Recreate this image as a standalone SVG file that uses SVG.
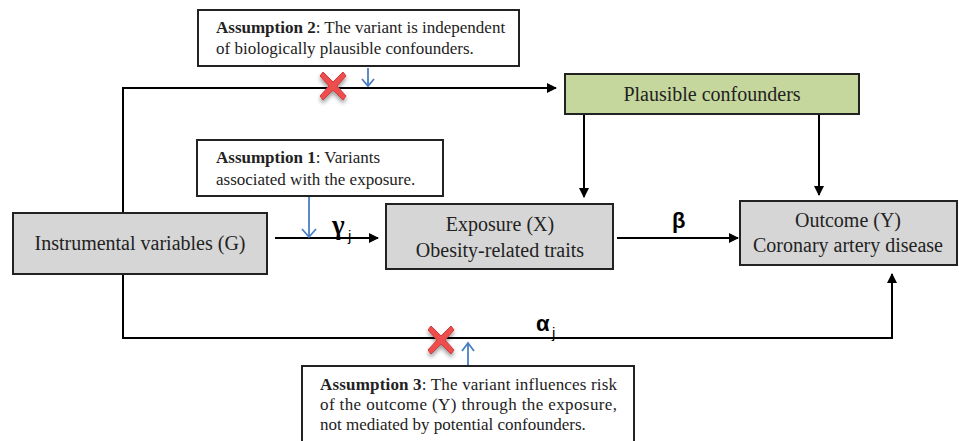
<svg xmlns="http://www.w3.org/2000/svg" width="959" height="441" viewBox="0 0 959 441">
<defs>
<marker id="ah" markerWidth="10" markerHeight="10" refX="9" refY="5" orient="auto" markerUnits="userSpaceOnUse" viewBox="0 0 10 10">
<path d="M0,0 L10,5 L0,10 z" fill="#000"/>
</marker>
<filter id="sh" x="-50%" y="-50%" width="200%" height="200%">
<feGaussianBlur in="SourceAlpha" stdDeviation="2"/>
<feOffset dx="0" dy="3"/>
<feComponentTransfer><feFuncA type="linear" slope="0.4"/></feComponentTransfer>
<feMerge><feMergeNode/><feMergeNode in="SourceGraphic"/></feMerge>
</filter>
<g id="xmark">
<path d="M-10,-14 L0,-4 L10,-14 L13,-10 L4,0 L13,10 L10,14 L0,4 L-10,14 L-13,10 L-4,0 L-13,-10 z" fill="#ee4d4d" stroke="#d03a3a" stroke-width="1" stroke-linejoin="round"/>
</g>
</defs>
<style>
.node{stroke:#222;stroke-width:2}
.grey{fill:#d6d6d6}
.green{fill:#c5d79c}
.note{fill:#fff;stroke:#222;stroke-width:2}
.t{font-family:"Liberation Serif","Times New Roman",serif;fill:#222}
.nt{font-size:20px}
.at{font-size:17px}
.b{font-weight:bold}
.conn{fill:none;stroke:#000;stroke-width:2}
.blue{fill:none;stroke:#4a7fc4;stroke-width:1.8}
.greek{font-family:"Liberation Sans",Arial,sans-serif;font-weight:bold;font-size:22px;fill:#000}
.gs{font-family:"Liberation Serif","Times New Roman",serif;font-weight:bold;font-size:27px;fill:#000}
.sub{font-family:"Liberation Sans",Arial,sans-serif;font-size:15px;fill:#000}
</style>
<rect width="959" height="441" fill="#fff"/>

<g id="connectors">
<polyline class="conn" points="123,213 123,88 556,88" marker-end="url(#ah)"/>
<polyline class="conn" points="123,274 123,338 892,338 892,274" marker-end="url(#ah)"/>
<line class="conn" x1="275" y1="238" x2="378" y2="238" marker-end="url(#ah)"/>
<line class="conn" x1="617" y1="238" x2="738" y2="238" marker-end="url(#ah)"/>
<line class="conn" x1="584" y1="114" x2="584" y2="197" marker-end="url(#ah)"/>
<line class="conn" x1="819" y1="112" x2="819" y2="195" marker-end="url(#ah)"/>
<path class="blue" d="M368,68 L368,86 M362,79 L368,86 L374,79"/>
<path class="blue" d="M309,196 L309,237 M302,229 L309,237 L316,229"/>
<path class="blue" d="M468,366 L468,343 M462,351 L468,343 L474,351"/>
<use href="#xmark" x="333" y="86" filter="url(#sh)"/>
<use href="#xmark" x="441" y="340" filter="url(#sh)"/>
<text class="gs" x="332" y="234">γ</text><text class="sub" x="348" y="241">j</text>
<text class="greek" x="672" y="228">β</text>
<text class="greek" x="536" y="331">α</text><text class="sub" x="552" y="338">j</text>
</g>

<g id="assumption2">
<rect class="note" x="198" y="10" width="321" height="56"/>
<text class="t at" x="216" y="33"><tspan class="b">Assumption 2</tspan>: The variant is independent</text>
<text class="t at" x="216" y="54">of biologically plausible confounders.</text>
</g>

<g id="assumption1">
<rect class="note" x="197" y="140" width="246" height="56"/>
<text class="t at" x="216" y="163"><tspan class="b">Assumption 1</tspan>: Variants</text>
<text class="t at" x="216" y="185">associated  with the exposure.</text>
</g>

<g id="assumption3">
<rect class="note" x="302" y="366" width="332" height="80"/>
<text class="t at" x="320" y="390" textLength="297" lengthAdjust="spacing"><tspan class="b">Assumption 3</tspan>: The variant influences risk</text>
<text class="t at" x="320" y="410" textLength="297" lengthAdjust="spacing">of the outcome (Y) through the exposure,</text>
<text class="t at" x="320" y="430">not mediated by potential confounders.</text>
</g>

<g id="confounders">
<rect class="node green" x="565" y="74" width="294" height="40"/>
<text class="t nt" x="712" y="101" text-anchor="middle">Plausible confounders</text>
</g>

<g id="instrument">
<rect class="node grey" x="13" y="213" width="254" height="61"/>
<text class="t nt" x="140" y="250" text-anchor="middle">Instrumental variables (G)</text>
</g>

<g id="exposure">
<rect class="node grey" x="386" y="204" width="227" height="65"/>
<text class="t nt" x="500" y="231" text-anchor="middle">Exposure (X)</text>
<text class="t nt" x="500" y="257" text-anchor="middle">Obesity-related traits</text>
</g>

<g id="outcome">
<rect class="node grey" x="740" y="201" width="217" height="64"/>
<text class="t nt" x="848" y="227" text-anchor="middle">Outcome (Y)</text>
<text class="t nt" x="848" y="252" text-anchor="middle">Coronary artery disease</text>
</g>
</svg>
